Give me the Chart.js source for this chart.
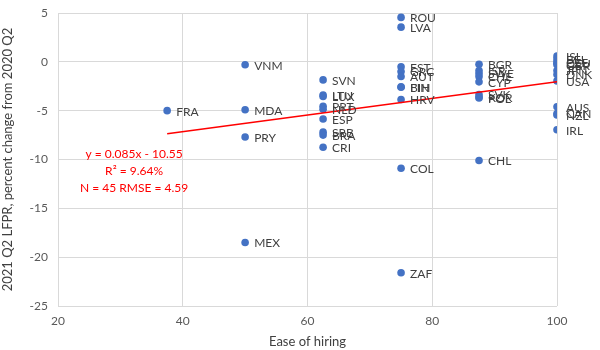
<!DOCTYPE html>
<html>
<head>
<meta charset="utf-8">
<script src="https://cdn.jsdelivr.net/npm/chart.js@4"></script>
<style>
  html, body { margin: 0; padding: 0; background: #fff; }
  #wrap { width: 600px; height: 350px; }
</style>
</head>
<body>
<div id="wrap"><canvas id="scatterChart"></canvas></div>
<script>
// Country codes, ease of hiring score, LFPR change (2021 Q2 vs 2020 Q2)
const countries = [
    'FRA', 'VNM', 'MDA', 'PRY', 'MEX',
    'SVN', 'LTU', 'LUX', 'PRT', 'NLD', 'ESP', 'SRB', 'BRA', 'CRI',
    'ROU', 'LVA', 'EST', 'GRC', 'AUT', 'BIH', 'FIN', 'HRV', 'COL', 'ZAF',
    'BGR', 'ISR', 'SWE', 'CHE', 'CYP', 'SVK', 'KOR', 'POL', 'CHL',
    'ISL', 'BEL', 'CZE', 'DEU', 'GBR', 'JPN', 'DNK', 'USA', 'AUS', 'CAN', 'NZL', 'IRL'
];
const easeOfHiring = [
    37.5, 50, 50, 50, 50,
    62.5, 62.5, 62.5, 62.5, 62.5, 62.5, 62.5, 62.5, 62.5,
    75, 75, 75, 75, 75, 75, 75, 75, 75, 75,
    87.5, 87.5, 87.5, 87.5, 87.5, 87.5, 87.5, 87.5, 87.5,
    100, 100, 100, 100, 100, 100, 100, 100, 100, 100, 100, 100
];
const lfprChange = [
    -5.0, -0.3, -4.9, -7.7, -18.5,
    -1.85, -3.4, -3.55, -4.55, -4.85, -5.85, -7.2, -7.5, -8.75,
    4.55, 3.55, -0.5, -1.0, -1.5, -2.55, -2.6, -3.85, -10.9, -21.6,
    -0.25, -0.9, -1.2, -1.5, -2.05, -3.35, -3.6, -3.7, -10.1,
    0.6, 0.3, 0.0, -0.15, -0.3, -0.9, -1.3, -1.95, -4.6, -5.3, -5.45, -6.95
];

// Fitted trend line end points
const trendX = [37.5, 100];
const trendY = [-7.36, -2.05];
const trendText = ['y = 0.085x - 10.55', 'R\u00B2 = 9.64%', 'N = 45 RMSE = 4.59'];

const xTicks = [20, 40, 60, 80, 100];
const yTicks = [5, 0, -5, -10, -15, -20, -25];

const FONT = 'Lato, "Open Sans", sans-serif';

// Draw country codes next to each point
const pointLabels = {
    id: 'pointLabels',
    afterDatasetsDraw(chart) {
        const ctx = chart.ctx;
        const meta = chart.getDatasetMeta(1);
        ctx.save();
        ctx.font = '12px ' + FONT;
        ctx.fillStyle = '#404040';
        ctx.textAlign = 'left';
        ctx.textBaseline = 'middle';
        meta.data.forEach((pt, i) => {
            ctx.fillText(countries[i], pt.x + 9, pt.y + 1);
        });
        ctx.restore();
    }
};

// Regression equation text in red
const trendLabel = {
    id: 'trendLabel',
    afterDatasetsDraw(chart) {
        const ctx = chart.ctx;
        const xs = chart.scales.x, ys = chart.scales.y;
        const cx = xs.getPixelForValue(32.2);
        ctx.save();
        ctx.font = '12px ' + FONT;
        ctx.fillStyle = '#ff0000';
        ctx.textAlign = 'center';
        ctx.textBaseline = 'middle';
        const rows = [-9.5, -11.2, -12.9];
        trendText.forEach((t, i) => {
            ctx.fillText(t, cx, ys.getPixelForValue(rows[i]));
        });
        ctx.restore();
    }
};

const ctx = document.getElementById('scatterChart').getContext('2d');

new Chart(ctx, {
    type: 'scatter',
    data: {
        datasets: [
            {
                type: 'line',
                label: 'Trend',
                data: trendX.map((x, i) => ({ x: x, y: trendY[i] })),
                borderColor: '#ff0000',
                borderWidth: 1.5,
                pointRadius: 0,
                fill: false
            },
            {
                label: 'Countries',
                data: easeOfHiring.map((x, i) => ({ x: x, y: lfprChange[i] })),
                backgroundColor: '#4472c4',
                borderColor: '#4472c4',
                pointRadius: 3.8,
                pointBorderWidth: 0
            }
        ]
    },
    options: {
        responsive: true,
        maintainAspectRatio: false,
        animation: false,
        layout: { padding: { top: 13, right: 43, left: 0, bottom: 0 } },
        plugins: {
            legend: { display: false },
            tooltip: { enabled: false }
        },
        scales: {
            x: {
                type: 'linear',
                min: 20,
                max: 100,
                afterBuildTicks: s => { s.ticks = xTicks.map(v => ({ value: v })); },
                grid: { color: '#d9d9d9', lineWidth: 1, drawTicks: false },
                border: { display: false },
                ticks: {
                    color: '#595959',
                    font: { family: FONT, size: 12 },
                    padding: 8
                },
                title: {
                    display: true,
                    text: 'Ease of hiring',
                    color: '#404040',
                    font: { family: FONT, size: 13 },
                    padding: { top: 2, bottom: 0 }
                },
                afterFit: s => { s.height = 44; }
            },
            y: {
                min: -25,
                max: 5,
                afterBuildTicks: s => { s.ticks = yTicks.map(v => ({ value: v })); },
                grid: { color: '#d9d9d9', lineWidth: 1, drawTicks: false },
                border: { display: false },
                ticks: {
                    color: '#595959',
                    font: { family: FONT, size: 12 },
                    padding: 10
                },
                title: {
                    display: true,
                    text: '2021 Q2 LFPR, percent change from 2020 Q2',
                    color: '#404040',
                    font: { family: FONT, size: 13 },
                    padding: { top: 0, bottom: 4 }
                },
                afterFit: s => {
                    s.width = 58;
                    s.paddingTop = 0;
                    s.paddingBottom = 0;
                }
            }
        }
    },
    plugins: [pointLabels, trendLabel]
});
</script>
</body>
</html>
